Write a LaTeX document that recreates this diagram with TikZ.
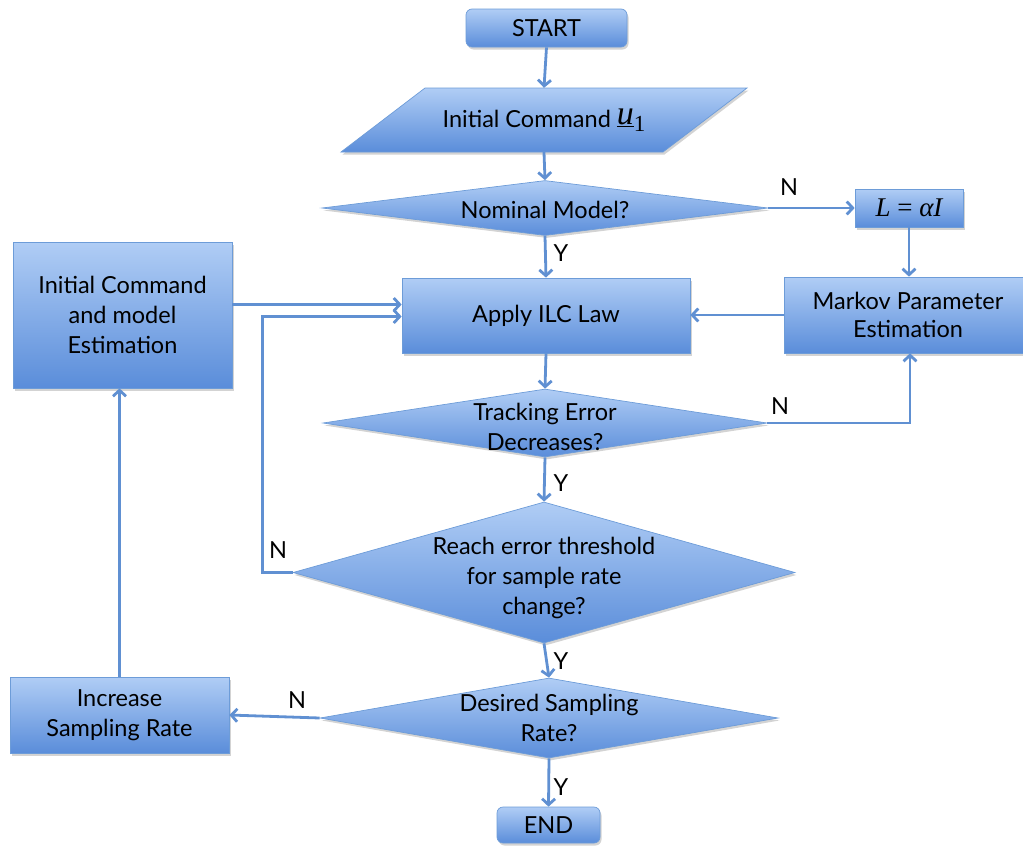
\documentclass[tikz,border=0pt]{standalone}
\usepackage{fontspec}
\setmainfont{Lato}
\newfontfamily\tms{Liberation Serif}
\usetikzlibrary{arrows.meta,shadows,calc,shapes.geometric}
\definecolor{ctop}{HTML}{B0CDF5}
\definecolor{cbot}{HTML}{5A8DDA}
\definecolor{cbord}{HTML}{6D9CD8}
\definecolor{acol}{HTML}{6090D2}
\begin{document}
\begin{tikzpicture}[x=1pt,y=-1pt,
  txt/.style={font=\fontsize{23.5}{30}\selectfont, align=center, text=black},
  shd/.style={drop shadow={opacity=0.35,shadow xshift=1.5pt,shadow yshift=-2.5pt}},
  box/.style={rectangle, draw=cbord, line width=0.7pt, top color=ctop, bottom color=cbot, shd, inner sep=0pt, txt},
  rbox/.style={box, rounded corners=6pt},
  dec/.style={diamond, draw=cbord, line width=0.7pt, top color=ctop, bottom color=cbot, shd, inner sep=0pt},
  arr/.style={draw=acol, line width=2.8pt, -{Straight Barb[length=6pt,width=13pt]}},
  ln/.style={draw=acol, line width=2.8pt},
  yn/.style={txt, inner sep=0pt}
]
\useasboundingbox (0,0) rectangle (1023,846);

% nodes
\node[rbox, minimum width=161, minimum height=38] (start) at (546.5,28) {START};
\path[draw=cbord, line width=0.7pt, top color=ctop, bottom color=cbot, shd]
  (341,152) -- (425,88) -- (747,88) -- (663,152) -- cycle;
\node[txt, minimum width=300, minimum height=64, inner sep=0pt] (para) at (544,120)
  {\raisebox{-3pt}{Initial Command} {\tms\fontsize{34}{34}\selectfont\itshape\underline{u}}\raisebox{-7pt}{\tms\fontsize{23}{23}\selectfont 1}};
\node[dec, minimum width=446, minimum height=55,
  label={[txt, yshift=-2pt]center:Nominal Model?}] (nom) at (545,208) {};
\node[box, minimum width=108, minimum height=38, font=\tms\fontsize{27}{27}\selectfont] (L) at (909,208) {\itshape L \upshape= \itshape αI};
\node[box, minimum width=248, minimum height=76] (markov) at (908,315) {\raisebox{-2pt}{Markov Parameter}\\Estimation};
\node[box, minimum width=288, minimum height=75] (apply) at (546,315.5) {\raisebox{-3pt}{Apply ILC Law}};
\node[box, minimum width=219, minimum height=146] (init) at (122.5,315) {Initial Command\\and model\\Estimation};
\node[dec, minimum width=444, minimum height=68,
  label={[txt, yshift=-4pt]center:Tracking Error\\Decreases?}] (track) at (545,423) {};
\node[dec, minimum width=502, minimum height=141,
  label={[txt, yshift=-5pt]center:Reach error threshold\\for sample rate\\change?}] (reach) at (544,572.5) {};
\node[dec, minimum width=458, minimum height=80,
  label={[txt]center:Desired Sampling\\Rate?}] (des) at (549,718) {};
\node[box, minimum width=219, minimum height=76] (inc) at (119.5,715) {Increase\\Sampling Rate};
\node[rbox, minimum width=103, minimum height=36] (end) at (548.5,825) {END};

% labels
\node[yn] (n1) at (789,187) {N};
\node[yn] (y1) at (561,253) {Y};
\node[yn] (n2) at (780,406) {N};
\node[yn] (y2) at (561,483) {Y};
\node[yn] (n3) at (278,550) {N};
\node[yn] (y3) at (561,661) {Y};
\node[yn] (n4) at (297,700) {N};
\node[yn] (y4) at (561,787) {Y};

% connectors
\draw[arr] (start.south) -- (para.north);
\draw[arr] (para.south) -- (nom.north);
\draw[arr] (nom.east) -- (L.west);
\draw[arr] (L.south) -- (L.south |- markov.north);
\draw[arr] (nom.south) -- (apply.north);
\draw[arr] (markov.west) -- (markov.west -| apply.east);
\draw[arr] (apply.south) -- (track.north);
\draw[arr] (track.east) -| ($(markov.south)+(2,0)$);
\draw[arr] (track.south) -- (reach.north);
\coordinate (fa) at ($(apply.west)+(0,-11)$);
\coordinate (fb) at ($(apply.west)+(0,1)$);
\draw[arr] (init.east |- fa) -- (fa);
\draw[arr] (reach.west) -- ++(-30,0) |- (fb);
\draw[arr] (reach.south) -- (des.north);
\draw[arr] (des.west) -- (inc.east);
\draw[arr] (inc.north) -- (inc.north |- init.south);
\draw[arr] (des.south) -- (end.north);
\end{tikzpicture}
\end{document}
